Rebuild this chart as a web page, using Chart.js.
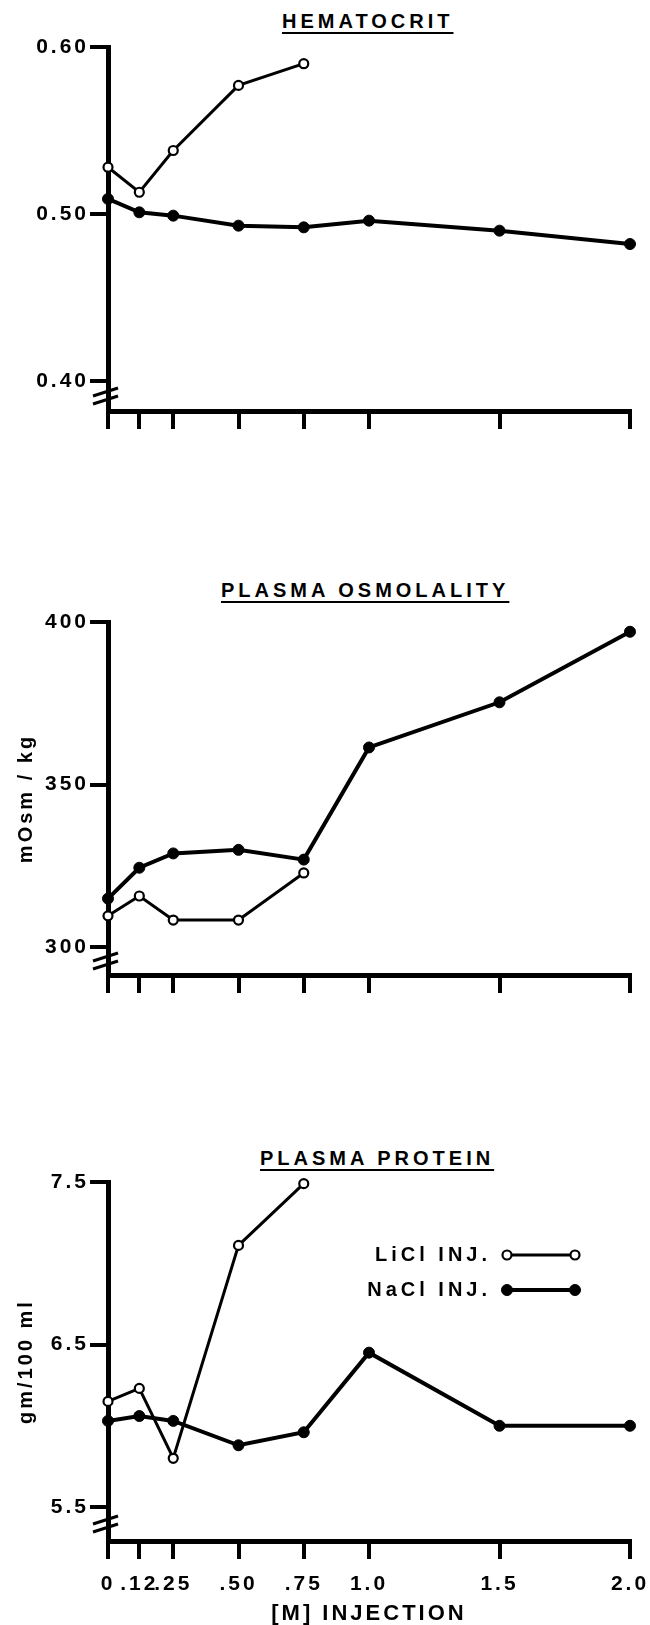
<!DOCTYPE html>
<html>
<head>
<meta charset="utf-8">
<script src="https://cdn.jsdelivr.net/npm/chart.js@4.4.0/dist/chart.umd.min.js"></script>
<style>
  body { margin: 0; background: #fff; width: 650px; height: 1625px; position: relative; overflow: hidden; }
  canvas { position: absolute; left: 0; }
  .title {
    position: absolute; color: #000; white-space: nowrap;
    font: bold 20px 'Liberation Sans', Arial, sans-serif; line-height: 20px;
    letter-spacing: 4px;
    text-decoration: underline; text-decoration-thickness: 2px; text-underline-offset: 4px;
  }
</style>
</head>
<body>
<div class="title" style="left:282px; top:11px">HEMATOCRIT</div>
<div class="title" style="left:221px; top:580px">PLASMA OSMOLALITY</div>
<div class="title" style="left:260px; top:1148px">PLASMA PROTEIN</div>
<canvas id="hctChart" width="650" height="440" style="top:0"></canvas>
<canvas id="osmChart" width="650" height="445" style="top:560px"></canvas>
<canvas id="protChart" width="650" height="505" style="top:1120px"></canvas>
<script>
// x axis: injection concentration [M]
const xTicks = [0, 0.12, 0.25, 0.5, 0.75, 1.0, 1.5, 2.0];
const xTickLabels = ['0', '.12', '.25', '.50', '.75', '1.0', '1.5', '2.0'];
const liclDose = [0, 0.12, 0.25, 0.5, 0.75];
const naclDose = [0, 0.12, 0.25, 0.5, 0.75, 1.0, 1.5, 2.0];

// hematocrit
const hctTicks = [0.40, 0.50, 0.60];
const hctLiCl = [0.528, 0.513, 0.538, 0.577, 0.590];
const hctNaCl = [0.509, 0.501, 0.499, 0.493, 0.492, 0.496, 0.490, 0.482];

// plasma osmolality, mOsm/kg
const osmTicks = [300, 350, 400];
const osmLiCl = [309.6, 315.7, 308.3, 308.3, 322.8];
const osmNaCl = [314.9, 324.4, 328.8, 329.9, 326.9, 361.4, 375.3, 397.0];

// plasma protein, gm/100 ml
const protTicks = [5.5, 6.5, 7.5];
const protLiCl = [6.15, 6.23, 5.80, 7.11, 7.49];
const protNaCl = [6.03, 6.06, 6.03, 5.88, 5.96, 6.45, 6.00, 6.00];

Chart.defaults.font.family = "'Liberation Sans', Arial, sans-serif";
Chart.defaults.font.weight = 'bold';
Chart.defaults.color = '#000';

// wider letters like the typed original
const spacing = {
    id: 'spacing',
    beforeUpdate(chart) { chart.ctx.letterSpacing = '3px'; },
    beforeDraw(chart) { chart.ctx.letterSpacing = '3px'; }
};

// the // mark on the y axis below the lowest tick
const axisBreak = {
    id: 'axisBreak',
    afterDraw(chart) {
        const y = chart.scales.y;
        const mid = y.getPixelForValue((y.ticks[0].value + y.min) / 2);
        const x = chart.chartArea.left - 2;
        const ctx = chart.ctx;
        ctx.save();
        ctx.strokeStyle = '#000';
        ctx.lineWidth = 3;
        [-4, 4].forEach(d => {
            ctx.beginPath();
            ctx.moveTo(x - 13, mid + d + 4);
            ctx.lineTo(x + 12, mid + d - 4);
            ctx.stroke();
        });
        ctx.restore();
    }
};

// legend: label, then a line with a marker at each end
const sampleLegend = {
    id: 'sampleLegend',
    afterDraw(chart, args, opts) {
        const ctx = chart.ctx;
        chart.data.datasets.forEach((ds, i) => {
            const y = opts.top + i * opts.rowGap;
            ctx.save();
            ctx.font = "bold 20px 'Liberation Sans', Arial, sans-serif";
            ctx.letterSpacing = '4px';
            ctx.textAlign = 'right';
            ctx.textBaseline = 'middle';
            ctx.fillStyle = '#000';
            ctx.fillText(ds.label, opts.textRight, y);
            ctx.strokeStyle = '#000';
            ctx.lineWidth = ds.borderWidth;
            ctx.beginPath();
            ctx.moveTo(opts.lineStart, y);
            ctx.lineTo(opts.lineEnd, y);
            ctx.stroke();
            [opts.lineStart, opts.lineEnd].forEach(px => {
                ctx.beginPath();
                ctx.arc(px, y, ds.pointRadius, 0, Math.PI * 2);
                ctx.fillStyle = ds.pointBackgroundColor;
                ctx.fill();
                ctx.lineWidth = ds.pointBorderWidth;
                ctx.stroke();
            });
            ctx.restore();
        });
    }
};

function makeChart(id, o) {
    const extra = o.legend ? [spacing, axisBreak, sampleLegend] : [spacing, axisBreak];
    return new Chart(document.getElementById(id), {
        type: 'line',
        data: {
            datasets: [{
                label: 'LiCl INJ.',
                data: liclDose.map((x, i) => ({ x: x, y: o.licl[i] })),
                borderColor: '#000',
                borderWidth: 3,
                pointRadius: 4.5,
                pointBorderWidth: 2.2,
                pointBackgroundColor: '#fff',
                pointBorderColor: '#000',
                tension: 0,
                clip: false
            }, {
                label: 'NaCl INJ.',
                data: naclDose.map((x, i) => ({ x: x, y: o.nacl[i] })),
                borderColor: '#000',
                borderWidth: 4,
                pointRadius: 5.5,
                pointBorderWidth: 1,
                pointBackgroundColor: '#000',
                pointBorderColor: '#000',
                tension: 0,
                clip: false
            }]
        },
        options: {
            responsive: false,
            animation: false,
            devicePixelRatio: 1,
            layout: { autoPadding: false, padding: { top: o.top, right: 20, left: 0, bottom: 0 } },
            plugins: {
                legend: { display: false },
                tooltip: { enabled: false },
                sampleLegend: { top: 135, rowGap: 35, textRight: 491, lineStart: 507, lineEnd: 575 }
            },
            scales: {
                x: {
                    type: 'linear',
                    min: 0,
                    max: 2,
                    afterBuildTicks: s => { s.ticks = xTicks.map(v => ({ value: v })); },
                    afterFit: s => {
                        s.height = o.xHeight;
                        s.paddingLeft = 0;
                        s.paddingRight = 0;
                    },
                    grid: { drawOnChartArea: false, drawTicks: true, tickLength: 18, lineWidth: 4, color: '#000' },
                    border: { width: 5, color: '#000' },
                    ticks: {
                        display: o.xLabels,
                        autoSkip: false,
                        maxRotation: 0,
                        padding: 13,
                        font: { size: 21 },
                        callback: (v, i) => xTickLabels[i]
                    },
                    title: { display: o.xLabels, text: '[M] INJECTION', font: { size: 22, lineHeight: 1 }, padding: 0 }
                },
                y: {
                    type: 'linear',
                    min: o.min,
                    max: o.max,
                    afterBuildTicks: s => { s.ticks = o.ticks.map(v => ({ value: v })); },
                    afterFit: s => { s.width = 108; },
                    grid: { drawOnChartArea: false, drawTicks: true, tickLength: 18, lineWidth: 4, color: '#000' },
                    border: { width: 5, color: '#000' },
                    ticks: { padding: 1, font: { size: 21 }, callback: v => v.toFixed(o.digits) },
                    title: { display: !!o.yTitle, text: o.yTitle || '', font: { size: 20 }, padding: { top: 14, bottom: 0 } }
                }
            }
        },
        plugins: extra
    });
}

makeChart('hctChart', {
    licl: hctLiCl, nacl: hctNaCl, ticks: hctTicks, digits: 2,
    min: 0.382, max: 0.60, top: 47, xHeight: 29, xLabels: false
});
makeChart('osmChart', {
    licl: osmLiCl, nacl: osmNaCl, ticks: osmTicks, digits: 0,
    min: 291.4, max: 400, top: 62, xHeight: 30, xLabels: false, yTitle: 'mOsm / kg'
});
makeChart('protChart', {
    licl: protLiCl, nacl: protNaCl, ticks: protTicks, digits: 1,
    min: 5.291, max: 7.5, top: 62, xHeight: 84, xLabels: true, yTitle: 'gm/100 ml', legend: true
});
</script>
</body>
</html>
